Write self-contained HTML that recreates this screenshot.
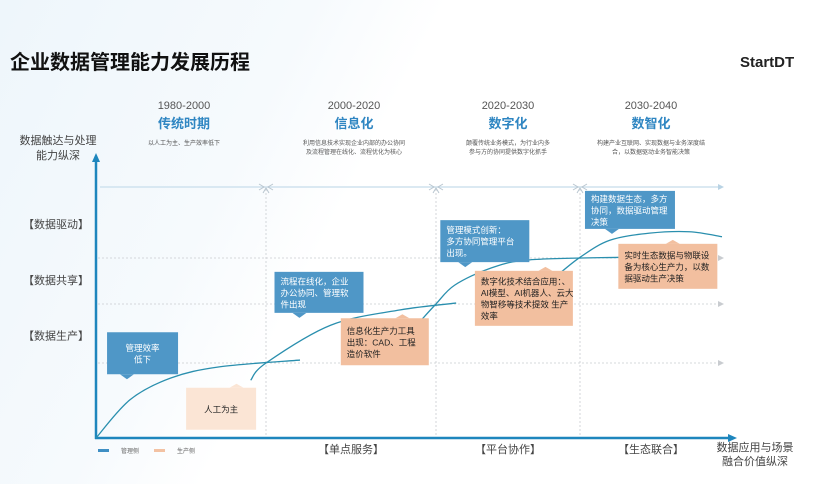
<!DOCTYPE html>
<html><head><meta charset="utf-8">
<style>
html,body{margin:0;padding:0;width:822px;height:484px;overflow:hidden;background:#fff;font-family:"Liberation Sans","Noto Sans CJK SC",sans-serif;}
svg text{font-family:"Liberation Sans","Noto Sans CJK SC",sans-serif;}
</style></head>
<body>
<svg id="chart" width="822" height="484" viewBox="0 0 822 484">
<defs>
<linearGradient id="bg" x1="0" y1="0" x2="1" y2="0.3">
<stop offset="0" stop-color="#eef6fb"/><stop offset="0.35" stop-color="#f6fafd"/><stop offset="0.5" stop-color="#fff"/></linearGradient>
</defs>
<rect width="822" height="484" fill="url(#bg)"/>
<text x="10" y="69" font-size="20" font-weight="bold" fill="#111">企业数据管理能力发展历程</text>
<text x="740" y="67" font-size="15" font-weight="bold" fill="#222">StartDT</text>
<text x="58" y="144" font-size="11" fill="#444" text-anchor="middle"><tspan x="58">数据触达与处理</tspan><tspan x="58" dy="15">能力纵深</tspan></text>
<text x="755" y="451" font-size="11" fill="#444" text-anchor="middle"><tspan x="755">数据应用与场景</tspan><tspan x="755" dy="14">融合价值纵深</tspan></text>
<g id="grid"></g>
<g id="heads"></g>
<g id="curves"></g>
<g id="callouts"></g>
<g>
<rect x="98" y="449" width="11" height="3" fill="#3f8fc4"/>
<text x="121" y="453" font-size="6" fill="#666">管理侧</text>
<rect x="154" y="449" width="11" height="3" fill="#f3c2a3"/>
<text x="177" y="453" font-size="6" fill="#666">生产侧</text>
</g>
</svg>
<script>
// data
const eraYears=["1980-2000","2000-2020","2020-2030","2030-2040"];
const eraNames=["传统时期","信息化","数字化","数智化"];
const eraDescs=[["以人工为主、生产效率低下"],["利用信息技术实现企业内部的办公协同","及流程管理在线化、流程优化为核心"],["颠覆传统业务模式，为行业内多","参与方的协同提供数字化抓手"],["构建产业互联网、实现数据与业务深度结","合，以数据驱动业务智能决策"]];
const eraCenters=[0.5,1.5,2.5,3.5];
const eraBounds=[0,1,2,3,4];
const levelLabels=["【数据生产】","【数据共享】","【数据驱动】"];
const levelCenters=[1.47,2.52,3.48];
const levelLines=[1,2,3];
const stageLabels=["【单点服务】","【平台协作】","【生态联合】"];
const stageCenters=[1.5,2.5,3.5];
// curves: [era-position, level]
const curve1=[[0,0],[0.2,0.51],[0.44,0.8],[0.73,0.95],[1.2,1.05]];
const curve2=[[0.91,0.77],[1,1],[1.38,1.64],[1.79,1.9],[2.14,2.02]];
const curve3=[[1.92,1.75],[2,2],[2.13,2.41],[2.38,2.78],[2.65,2.96],[3.28,3.01]];
const curve4=[[2.83,2.59],[3,3.01],[3.21,3.25],[3.49,3.35],[3.77,3.37],[4,3.3]];
const callouts=[
 {t:["管理效率","低下"],x:0.065,y:0.85,w:71,h:42,c:"#4f97c7",tc:"#fff",p:0.28,up:false,a:"middle"},
 {t:["人工为主"],x:0.53,y:0.11,w:70,h:42,c:"#fbe5d5",tc:"#222",p:0.72,up:true,a:"middle"},
 {t:["流程在线化，企业","办公协同、管理软","件出现"],x:1.05,y:1.85,w:89,h:41,c:"#4f97c7",tc:"#fff",p:0.28,up:false,a:"start"},
 {t:["信息化生产力工具","出现：CAD、工程","造价软件"],x:1.44,y:0.97,w:88,h:47,c:"#f2bf9f",tc:"#222",p:0.7,up:true,a:"start"},
 {t:["管理模式创新：","多方协同管理平台","出现。"],x:2.03,y:2.91,w:89,h:42,c:"#4f97c7",tc:"#fff",p:0.28,up:false,a:"start"},
 {t:["数字化技术结合应用：、","AI模型、AI机器人、云大","物智移等技术提效 生产","效率"],x:2.27,y:1.63,w:98,h:55,c:"#f2bf9f",tc:"#222",p:0.72,up:true,a:"start"},
 {t:["构建数据生态，多方","协同，数据驱动管理","决策"],x:3.035,y:3.41,w:90,h:38,c:"#4f97c7",tc:"#fff",p:0.3,up:false,a:"start"},
 {t:["实时生态数据与物联设","备为核心生产力，以数","据驱动生产决策"],x:3.27,y:2.33,w:99,h:45,c:"#f2bf9f",tc:"#222",p:0.55,up:true,a:"start"}
];
// scales (piecewise linear)
const xBreaks=[96,266,436,580,722];
const yBreaks=[438,363,304,258,187];
function pw(b,v){const i=Math.max(0,Math.min(b.length-2,Math.floor(v)));return b[i]+(v-i)*(b[i+1]-b[i]);}
const X=v=>pw(xBreaks,v);
const Y=v=>pw(yBreaks,v);
const NS="http://www.w3.org/2000/svg";
function mk(tag,attrs,parent){const e=document.createElementNS(NS,tag);for(const k in attrs)e.setAttribute(k,attrs[k]);parent.appendChild(e);return e;}
const grid=document.getElementById('grid'),heads=document.getElementById('heads'),curves=document.getElementById('curves'),co=document.getElementById('callouts');
levelLines.forEach((l)=>{
 const yy=Y(l);
 const ln=mk('line',{x1:98,y1:yy,x2:718,y2:yy,stroke:"#c9ccd0","stroke-dasharray":"2,2","stroke-width":0.8},grid);
 
 const ar=mk('path',{d:`M718,${yy-3} L724,${yy} L718,${yy+3}Z`,fill:"#c9ccd0"},grid);
 
});
{const ln=mk('line',{x1:100,y1:187,x2:720,y2:187,stroke:"#cfe2ee","stroke-width":1.5},grid);

const ar=mk('path',{d:"M718,184 L724,187 L718,190Z",fill:"#b9d3e4"},grid);
}
eraBounds.slice(1,4).forEach(b=>{
 const xx=X(b);
 const ln=mk('line',{x1:xx,y1:189,x2:xx,y2:437,stroke:"#c9ccd0","stroke-dasharray":"2,2","stroke-width":0.8},grid);
 
 const ar=mk('path',{d:`M${xx-7},184 L${xx-2},187 L${xx-7},190 M${xx+7},184 L${xx+2},187 L${xx+7},190 M${xx-3},193 L${xx},188 L${xx+3},193`,fill:"none",stroke:"#b9c6d0","stroke-width":1},grid);
 
});
{const a=mk('line',{x1:96,y1:160,x2:96,y2:439,stroke:"#1e86bd","stroke-width":2.5},grid);

const ah=mk('path',{d:"M92,162 L96,153 L100,162Z",fill:"#1e86bd"},grid);

const b=mk('line',{x1:95,y1:438,x2:730,y2:438,stroke:"#1e86bd","stroke-width":2.5},grid);

const bh=mk('path',{d:"M728,434 L737,438 L728,442Z",fill:"#1e86bd"},grid);
}
levelLabels.forEach((t,i)=>{
 const e=mk('text',{x:56,y:Y(levelCenters[i])+4,"font-size":11,fill:"#444","text-anchor":"middle"},grid);e.textContent=t;
 
});
stageLabels.forEach((t,i)=>{
 const e=mk('text',{x:X(stageCenters[i]),y:453,"font-size":11,fill:"#444","text-anchor":"middle"},grid);e.textContent=t;
 
});
eraYears.forEach((y,i)=>{
 const cx=X(eraCenters[i])+(i<2?3:0);
 const a=mk('text',{x:cx,y:109,"font-size":11,fill:"#555","text-anchor":"middle"},heads);a.textContent=y;
 
 const b=mk('text',{x:cx,y:128,"font-size":13,"font-weight":"bold",fill:"#2f86c2","text-anchor":"middle"},heads);b.textContent=eraNames[i];
 
 eraDescs[i].forEach((d,j)=>{const c=mk('text',{x:cx,y:145+j*9,"font-size":6,fill:"#555","text-anchor":"middle"},heads);c.textContent=d;
 });
});
function path(pts){let p=pts.map(q=>[X(q[0]),Y(q[1])]);let d=`M${p[0][0]},${p[0][1]}`;
 for(let i=1;i<p.length;i++){const p0=p[i-2]||p[i-1],p1=p[i-1],p2=p[i],p3=p[i+1]||p[i];
 d+=` C${p1[0]+(p2[0]-p0[0])/6},${p1[1]+(p2[1]-p0[1])/6} ${p2[0]-(p3[0]-p1[0])/6},${p2[1]-(p3[1]-p1[1])/6} ${p2[0]},${p2[1]}`;}return d;}
[curve1,curve2,curve3,curve4].forEach((c,i)=>{
 const e=mk('path',{d:path(c),fill:"none",stroke:"#2a8fae","stroke-width":1.3},curves);
 
});
callouts.forEach((c)=>{
 const x=X(c.x),y=Y(c.y)-c.h,w=c.w,h=c.h,px=x+w*c.p;
 const g=mk('g',{},co);
 
 mk('rect',{x:x,y:y,width:w,height:h,fill:c.c},g);
 if(c.up)mk('path',{d:`M${px-7},${y} L${px},${y-4} L${px+7},${y}Z`,fill:c.c},g);
 else mk('path',{d:`M${px-7},${y+h} L${px},${y+h+5} L${px+7},${y+h}Z`,fill:c.c},g);
 const n=c.t.length,lh=11.5,sy=y+h/2-(n-1)*lh/2+3.5;
 c.t.forEach((t,j)=>{const e=mk('text',{x:c.a=="middle"?x+w/2:x+6,y:sy+j*lh,"font-size":8.5,fill:c.tc,"text-anchor":c.a},g);e.textContent=t;
 });
});
</script>
</body></html>
